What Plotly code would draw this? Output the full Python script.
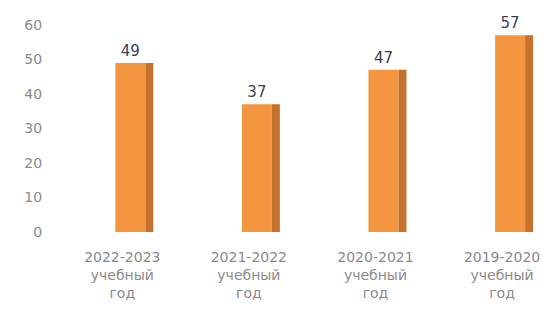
import plotly.graph_objects as go

categories = ["2022-2023<br>учебный<br>год", "2021-2022<br>учебный<br>год",
              "2020-2021<br>учебный<br>год", "2019-2020<br>учебный<br>год"]
values = [49, 37, 47, 57]
y_ticks = [0, 10, 20, 30, 40, 50, 60]

front = go.Bar(
    x=categories, y=values, width=0.237, offset=-0.055,
    marker=dict(color="#F4963F", line=dict(width=0)),
    text=[str(v) for v in values], textposition="outside",
    textfont=dict(size=15, color="#3c3f52", family="DejaVu Sans"),
    cliponaxis=False, hoverinfo="skip",
)
side = go.Bar(
    x=categories, y=values, width=0.063, offset=0.182,
    marker=dict(color="#C5702C", line=dict(width=0)),
    hoverinfo="skip",
)

fig = go.Figure([front, side])
fig.update_layout(
    width=559, height=309,
    margin=dict(l=59, r=0, t=25, b=77, autoexpand=False),
    paper_bgcolor="white", plot_bgcolor="white",
    showlegend=False, barmode="overlay",
    font=dict(family="DejaVu Sans", size=14, color="#8a8a8a"),
)
fig.update_xaxes(range=[-0.5, 3.45], showgrid=False, showline=False, zeroline=False,
                 ticks="outside", ticklen=12, tickcolor="rgba(0,0,0,0)",
                 tickfont=dict(size=14, color="#8a8a8a"))
fig.update_yaxes(range=[0, 60], tickvals=y_ticks, showgrid=False, zeroline=False,
                 showline=False, ticks="outside", ticklen=13, tickcolor="rgba(0,0,0,0)",
                 tickfont=dict(size=14, color="#8a8a8a"))
fig.write_html("out.html", config={"displayModeBar": False},
               post_script="document.body.style.margin='0';")
